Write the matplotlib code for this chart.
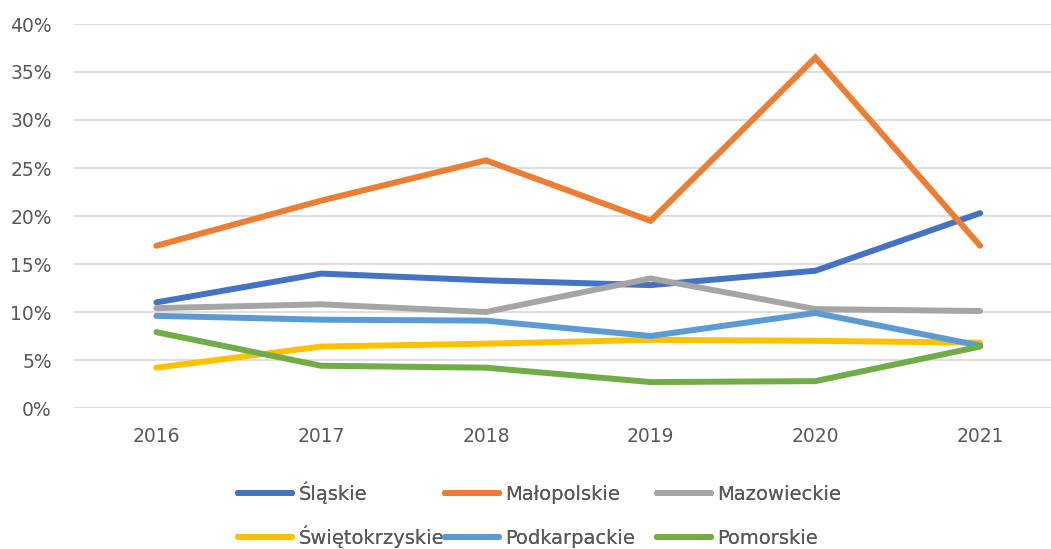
import matplotlib

matplotlib.use("Agg")
import matplotlib.pyplot as plt
from matplotlib.ticker import FuncFormatter, MultipleLocator

years = ["2016", "2017", "2018", "2019", "2020", "2021"]

slaskie = [11.0, 14.0, 13.3, 12.8, 14.3, 20.3]
malopolskie = [16.9, 21.6, 25.8, 19.5, 36.5, 16.9]
mazowieckie = [10.4, 10.8, 10.0, 13.5, 10.3, 10.1]
swietokrzyskie = [4.2, 6.4, 6.7, 7.1, 7.0, 6.8]
podkarpackie = [9.6, 9.2, 9.1, 7.5, 9.9, 6.5]
pomorskie = [7.9, 4.4, 4.2, 2.7, 2.8, 6.4]

series = [
  ("Śląskie", slaskie, "#4472C4"),
  ("Małopolskie", malopolskie, "#ED7D31"),
  ("Mazowieckie", mazowieckie, "#A5A5A5"),
  ("Świętokrzyskie", swietokrzyskie, "#FFC000"),
  ("Podkarpackie", podkarpackie, "#5B9BD5"),
  ("Pomorskie", pomorskie, "#70AD47"),
]

TEXT = "#595959"
plt.rcParams.update({
  "font.family": ["DejaVu Sans Condensed", "DejaVu Sans"],
  "font.size": 13,
  "text.color": TEXT,
  "xtick.color": TEXT,
  "ytick.color": TEXT,
})

W, H = 1051, 549
fig = plt.figure(figsize=(W / 100, H / 100), dpi=100)
ax = fig.add_axes([74 / W, 141 / H, 977 / W, 384 / H])

x = list(range(len(years)))
lines = []
for name, vals, color in series:
  (ln,) = ax.plot(x, vals, color=color, linewidth=4.3,
                  solid_capstyle="round", solid_joinstyle="miter", label=name)
  lines.append(ln)

ax.set_ylim(0, 40)
ax.set_xlim(-0.5, 5.43)
ax.yaxis.set_major_locator(MultipleLocator(5))
ax.yaxis.set_major_formatter(FuncFormatter(lambda v, _: f"{v:.0f}%"))
ax.set_xticks(x)
ax.set_xticklabels(years)
ax.grid(axis="y", color="#D9D9D9", linewidth=1.2)
ax.set_axisbelow(True)
for s in ax.spines.values():
  s.set_visible(False)
ax.tick_params(axis="both", length=0, labelsize=13.5)
ax.tick_params(axis="y", pad=16)
ax.tick_params(axis="x", pad=14)

# one legend per entry so rows and columns line up like the original;
# anchored at the bottom so the accents on Ś don't shift the baseline
col_x = [238, 445, 657]
row_bottom = [504, 548]
for i, ln in enumerate(lines):
  r, c = divmod(i, 3)
  leg = fig.legend([ln], [ln.get_label()], frameon=False, loc="lower left",
                   bbox_to_anchor=(col_x[c] / W, 1 - row_bottom[r] / H),
                   fontsize=14, handlelength=2.8, handletextpad=0.3,
                   borderpad=0, borderaxespad=0)
  fig.add_artist(leg)

fig.savefig("out.png", dpi=100)
